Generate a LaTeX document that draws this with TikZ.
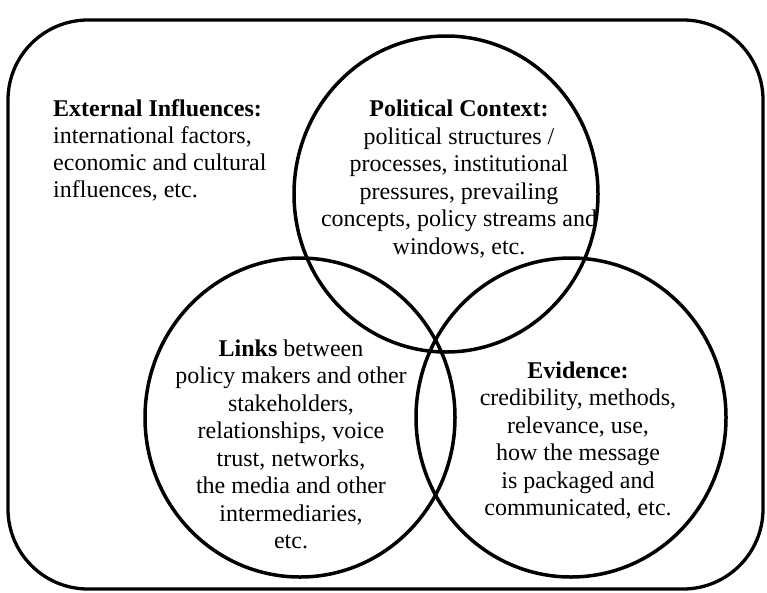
\documentclass[tikz,border=0pt]{standalone}
\usepackage{fontspec}
\setmainfont{Liberation Serif}
\usetikzlibrary{shapes.geometric}
\begin{document}
\begin{tikzpicture}[x=1pt,y=-1pt,
  venn/.style={ellipse, draw, line width=3.5pt, inner sep=0pt},
  lbl/.style={align=center, font=\fontsize{24}{27.5}\selectfont, inner sep=0pt, anchor=base}]
\useasboundingbox (0,0) rectangle (767,592);
\draw[line width=3.3pt, rounded corners=80pt] (8,20) rectangle (763,589);
\node[venn, minimum width=304pt, minimum height=316pt] (pol) at (446,194) {};
\node[venn, minimum width=310pt, minimum height=319pt] (lnk) at (300,417.5) {};
\node[venn, minimum width=310pt, minimum height=319pt] (evi) at (571,417.5) {};
\node[lbl, align=left, anchor=base west, font=\fontsize{24}{26.7}\selectfont] (ext) at (53,197)
  {\textbf{External Influences:}\\international factors,\\economic and cultural\\influences, etc.};
\node[lbl] (poltext) at (459,254.2)
  {\textbf{Political Context:}\\political structures /\\processes, institutional\\pressures, prevailing\\concepts, policy streams and\\windows, etc.};
\node[lbl] (lnktext) at (291,548.5)
  {\textbf{Links} between\\policy makers and other\\stakeholders,\\relationships, voice\\trust, networks,\\the media and other\\intermediaries,\\etc.};
\node[lbl] (evitext) at (578,515.5)
  {\textbf{Evidence:}\\credibility, methods,\\relevance, use,\\how the message\\is packaged and\\communicated, etc.};
\end{tikzpicture}
\end{document}
